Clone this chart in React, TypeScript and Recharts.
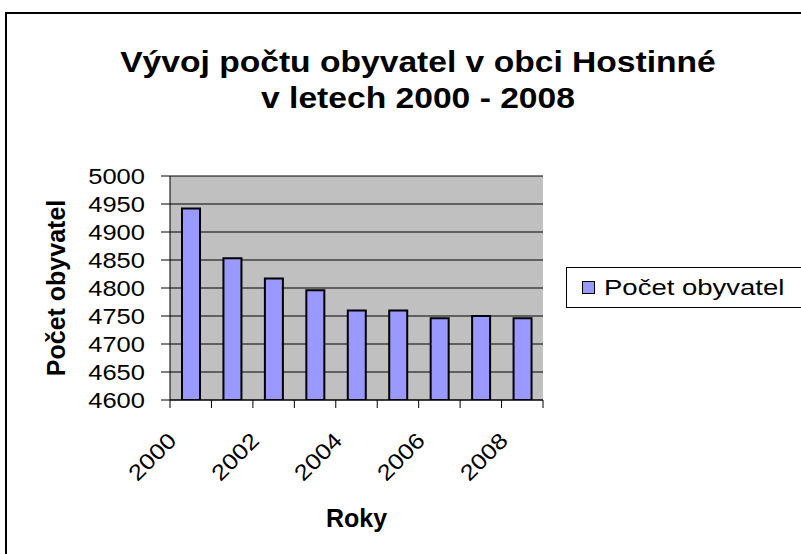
import React from 'react';
import { BarChart, Bar, XAxis, YAxis, CartesianGrid, Legend } from 'recharts';

const years = ['2000', '2001', '2002', '2003', '2004', '2005', '2006', '2007', '2008'];
const population = [4942, 4853, 4817, 4796, 4760, 4760, 4746, 4750, 4746];
const yTicks = [4600, 4650, 4700, 4750, 4800, 4850, 4900, 4950, 5000];

const data = years.map((year, i) => ({ year, value: population[i] }));

const FONT = '"Liberation Sans", Arial, sans-serif';
const PLOT_LEFT = 170;
const PLOT_RIGHT = 543;
const BAND = (PLOT_RIGHT - PLOT_LEFT) / years.length;
// the original text is drawn a bit wider than the font normally is
const STRETCH = 1.16;

function YearTick(props: any) {
  const { x, y, index, payload } = props;
  const last = index === years.length - 1;
  const ax = x - 13;
  const ay = y + 42;
  return (
    <g>
      <line x1={x - BAND / 2} y1={y} x2={x - BAND / 2} y2={y + 8} stroke="#000" />
      {last && <line x1={x + BAND / 2} y1={y} x2={x + BAND / 2} y2={y + 8} stroke="#000" />}
      {index % 2 === 0 && (
        <g transform={`translate(${ax} ${ay}) rotate(-45) scale(${STRETCH} 1)`}>
          <text x={0} y={0} textAnchor="end" fill="#000" fontSize={22} fontFamily={FONT}>
            {payload.value}
          </text>
        </g>
      )}
    </g>
  );
}

function ValueTick(props: any) {
  const { x, y, payload } = props;
  return (
    <g transform={`translate(${x} ${y}) scale(${STRETCH} 1)`}>
      <text x={0} y={0} dy="0.36em" textAnchor="end" fill="#000" fontSize={22} fontFamily={FONT}>
        {payload.value}
      </text>
    </g>
  );
}

function LegendBox() {
  return (
    <div
      style={{
        boxSizing: 'border-box',
        width: 240,
        height: 41,
        border: '1px solid #000',
        background: '#fff',
        display: 'flex',
        alignItems: 'center',
        paddingLeft: 15,
        fontFamily: FONT,
        fontSize: 22,
        color: '#000',
      }}
    >
      <span
        style={{
          display: 'inline-block',
          width: 11,
          height: 11,
          background: '#9999FF',
          border: '1px solid #000',
          marginRight: 9,
        }}
      />
      <span style={{ display: 'inline-block', whiteSpace: 'nowrap', transform: 'scaleX(1.25)', transformOrigin: 'left center' }}>
        Počet obyvatel
      </span>
    </div>
  );
}

export default function App() {
  return (
    <div style={{ position: 'absolute', left: 0, top: 0, width: 801, height: 554, background: '#fff', overflow: 'hidden' }}>
      <div
        style={{
          position: 'absolute',
          left: 5,
          top: 12,
          width: 800,
          height: 545,
          border: '2px solid #000',
          boxSizing: 'border-box',
        }}
      />
      <div
        style={{
          position: 'absolute',
          left: 0,
          width: 836,
          top: 44,
          textAlign: 'center',
          fontFamily: FONT,
          fontWeight: 'bold',
          fontSize: 30,
          lineHeight: '36px',
          color: '#000',
          transform: 'scaleX(1.12)',
          transformOrigin: '418px 0',
        }}
      >
        <div>Vývoj počtu obyvatel v obci Hostinné</div>
        <div>v letech 2000 - 2008</div>
      </div>
      <div style={{ position: 'absolute', left: 0, top: 0 }}>
        <BarChart width={801} height={554} data={data} margin={{ top: 176, right: 801 - PLOT_RIGHT, bottom: 0, left: 0 }}>
          <CartesianGrid fill="#C0C0C0" stroke="#000" vertical={false} horizontalValues={yTicks} />
          <XAxis
            dataKey="year"
            height={154}
            interval={0}
            tickLine={false}
            tickSize={0}
            tickMargin={0}
            axisLine={{ stroke: '#000', strokeWidth: 1 }}
            tick={<YearTick />}
            label={{
              value: 'Roky',
              position: 'center',
              dy: 41,
              fill: '#000',
              fontSize: 25,
              fontWeight: 'bold',
              fontFamily: FONT,
            }}
          />
          <YAxis
            width={PLOT_LEFT}
            domain={[4600, 5000]}
            ticks={yTicks}
            interval={0}
            allowDataOverflow
            tickSize={9}
            tickMargin={16}
            tickLine={{ stroke: '#000' }}
            axisLine={{ stroke: '#000' }}
            tick={<ValueTick />}
            label={{
              value: 'Počet obyvatel',
              angle: -90,
              position: 'center',
              dx: -29,
              fill: '#000',
              fontSize: 25,
              fontWeight: 'bold',
              fontFamily: FONT,
            }}
          />
          <YAxis
            yAxisId="right"
            orientation="right"
            width={0}
            tick={false}
            tickLine={false}
            axisLine={{ stroke: '#808080' }}
          />
          <Legend
            layout="horizontal"
            align="center"
            verticalAlign="middle"
            content={() => <LegendBox />}
            wrapperStyle={{ position: 'absolute', left: 566, top: 267, width: 240, height: 41 }}
          />
          <Bar
            dataKey="value"
            name="Počet obyvatel"
            fill="#9999FF"
            stroke="#000"
            strokeWidth={2}
            barSize={18}
            isAnimationActive={false}
          />
        </BarChart>
      </div>
    </div>
  );
}
